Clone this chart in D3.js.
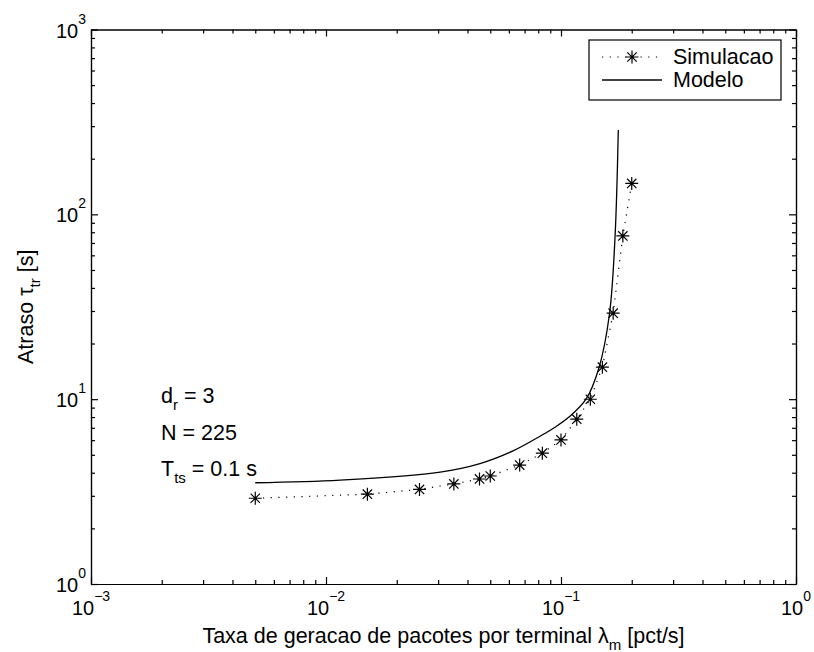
<!DOCTYPE html>
<html>
<head>
<meta charset="utf-8">
<script src="https://cdn.jsdelivr.net/npm/d3@7"></script>
<style>
  body { margin: 0; background: #fff; }
  text { font-family: "Liberation Sans", Arial, sans-serif; fill: #000; }
  .axis path, .axis line { stroke: #000; stroke-width: 1.2; }
</style>
</head>
<body>
<svg id="chart" width="814" height="652"></svg>
<script>
// Simulation points
const simLambda = [0.005, 0.015, 0.025, 0.035, 0.045, 0.05, 0.0667, 0.0833, 0.1, 0.1167, 0.1333, 0.15, 0.1667, 0.1833, 0.2];
const simDelay = [2.91, 3.06, 3.25, 3.48, 3.70, 3.84, 4.40, 5.10, 6.02, 7.79, 9.99, 14.9, 29.2, 76.4, 147];

// Model curve
const modelLambda = [0.005, 0.0115, 0.0306, 0.0452, 0.0625, 0.0814, 0.0943, 0.1081, 0.1278, 0.1451, 0.1608, 0.1698, 0.1753];
const modelDelay = [3.53, 3.65, 4.03, 4.48, 5.25, 6.30, 7.05, 8.0, 10.0, 14.8, 28.9, 75.5, 286];

const xMajor = [1e-3, 1e-2, 1e-1, 1];
const xExp = ["\u22123", "\u22122", "\u22121", "0"];
const yMajor = [1, 10, 100, 1000];
const yExp = ["0", "1", "2", "3"];

const margin = { top: 29.5, left: 91, right: 18, bottom: 68 };
const width = 814 - margin.left - margin.right;
const height = 652 - margin.top - margin.bottom;
const fs = "21.5px";

const svg = d3.select("#chart");
const g = svg.append("g")
    .attr("transform", "translate(" + margin.left + "," + margin.top + ")");

const x = d3.scaleLog().domain([1e-3, 1]).range([0, width]);
const y = d3.scaleLog().domain([1, 1000]).range([height, 0]);

// minor ticks: 2..9 in each decade
const xMinor = x.ticks().filter(v => xMajor.indexOf(v) < 0);
const yMinor = y.ticks().filter(v => yMajor.indexOf(v) < 0);

// ticks point inwards on all four sides
function drawAxis(axisFn, transform, major, minor) {
    g.append("g").attr("class", "axis").attr("transform", transform)
        .call(axisFn.tickValues(minor).tickSize(-4).tickSizeOuter(0).tickFormat(""));
    g.append("g").attr("class", "axis").attr("transform", transform)
        .call(axisFn.tickValues(major).tickSize(-7).tickSizeOuter(0).tickFormat(""));
}
drawAxis(d3.axisBottom(x), "translate(0," + height + ")", xMajor, xMinor);
drawAxis(d3.axisTop(x), "translate(0,0)", xMajor, xMinor);
drawAxis(d3.axisLeft(y), "translate(0,0)", yMajor, yMinor);
drawAxis(d3.axisRight(y), "translate(" + width + ",0)", yMajor, yMinor);

// tick labels
xMajor.forEach((v, i) => {
    const t = g.append("text")
        .attr("x", x(v))
        .attr("y", height + 31)
        .attr("text-anchor", "middle")
        .style("font-size", "20px");
    t.append("tspan").text("10");
    t.append("tspan").attr("dy", -14).style("font-size", "14px").text(xExp[i]);
});
yMajor.forEach((v, i) => {
    const t = g.append("text")
        .attr("x", -5)
        .attr("y", y(v) + 8)
        .attr("text-anchor", "end")
        .style("font-size", "20px");
    t.append("tspan").text("10");
    t.append("tspan").attr("dy", -14).style("font-size", "14px").text(yExp[i]);
});

// axis labels
const xl = g.append("text")
    .attr("x", width / 2)
    .attr("y", height + 59)
    .attr("text-anchor", "middle")
    .style("font-size", fs);
xl.append("tspan").text("Taxa de geracao de pacotes por terminal \u03bb");
xl.append("tspan").attr("dy", 7).style("font-size", "15px").text("m");
xl.append("tspan").attr("dy", -7).text(" [pct/s]");

const yl = g.append("text")
    .attr("transform", "translate(" + (-58) + "," + (height / 2) + ") rotate(-90)")
    .attr("text-anchor", "middle")
    .style("font-size", fs);
yl.append("tspan").text("Atraso \u03c4");
yl.append("tspan").attr("dy", 7).style("font-size", "15px").text("tr");
yl.append("tspan").attr("dy", -7).text(" [s]");

// data
const simData = simLambda.map((l, i) => ({ l: l, d: simDelay[i] }));
const modelData = modelLambda.map((l, i) => ({ l: l, d: modelDelay[i] }));

const line = d3.line()
    .x(d => x(d.l))
    .y(d => y(d.d));

g.append("path")
    .datum(simData)
    .attr("fill", "none")
    .attr("stroke", "#000")
    .attr("stroke-width", 1.2)
    .attr("stroke-dasharray", "1.2,6.5")
    .attr("d", line);

g.append("path")
    .datum(modelData)
    .attr("fill", "none")
    .attr("stroke", "#000")
    .attr("stroke-width", 1.3)
    .attr("d", line.curve(d3.curveCatmullRom.alpha(0.5)));

function starPath(cx, cy, r) {
    const a = r * 0.72;
    return "M" + (cx - r) + "," + cy + "H" + (cx + r) +
        "M" + cx + "," + (cy - r) + "V" + (cy + r) +
        "M" + (cx - a) + "," + (cy - a) + "L" + (cx + a) + "," + (cy + a) +
        "M" + (cx - a) + "," + (cy + a) + "L" + (cx + a) + "," + (cy - a);
}

g.selectAll(".star")
    .data(simData)
    .enter().append("path")
    .attr("class", "star")
    .attr("d", d => starPath(x(d.l), y(d.d), 6.5))
    .attr("stroke", "#000")
    .attr("stroke-width", 1.2)
    .attr("fill", "none");

// annotations
const ann = g.append("g").style("font-size", fs);
const a1 = ann.append("text").attr("x", 70).attr("y", 373);
a1.append("tspan").text("d");
a1.append("tspan").attr("dy", 7).style("font-size", "15px").text("r");
a1.append("tspan").attr("dy", -7).text(" = 3");
ann.append("text").attr("x", 70).attr("y", 410).text("N = 225");
const a3 = ann.append("text").attr("x", 70).attr("y", 446);
a3.append("tspan").text("T");
a3.append("tspan").attr("dy", 7).style("font-size", "15px").text("ts");
a3.append("tspan").attr("dy", -7).text(" = 0.1 s");

// legend
const lg = g.append("g").attr("transform", "translate(498,10.5)");
lg.append("rect")
    .attr("width", 192).attr("height", 60)
    .attr("fill", "#fff").attr("stroke", "#000").attr("stroke-width", 1.2);
lg.append("line")
    .attr("x1", 13).attr("x2", 73).attr("y1", 17).attr("y2", 17)
    .attr("stroke", "#000").attr("stroke-width", 1.2).attr("stroke-dasharray", "1.2,6.5");
lg.append("path")
    .attr("d", starPath(43, 17, 6.5))
    .attr("stroke", "#000").attr("stroke-width", 1.2);
lg.append("line")
    .attr("x1", 13).attr("x2", 73).attr("y1", 40).attr("y2", 40)
    .attr("stroke", "#000").attr("stroke-width", 1.3);
lg.append("text").attr("x", 84).attr("y", 24).style("font-size", fs).text("Simulacao");
lg.append("text").attr("x", 84).attr("y", 47).style("font-size", fs).text("Modelo");
</script>
</body>
</html>
